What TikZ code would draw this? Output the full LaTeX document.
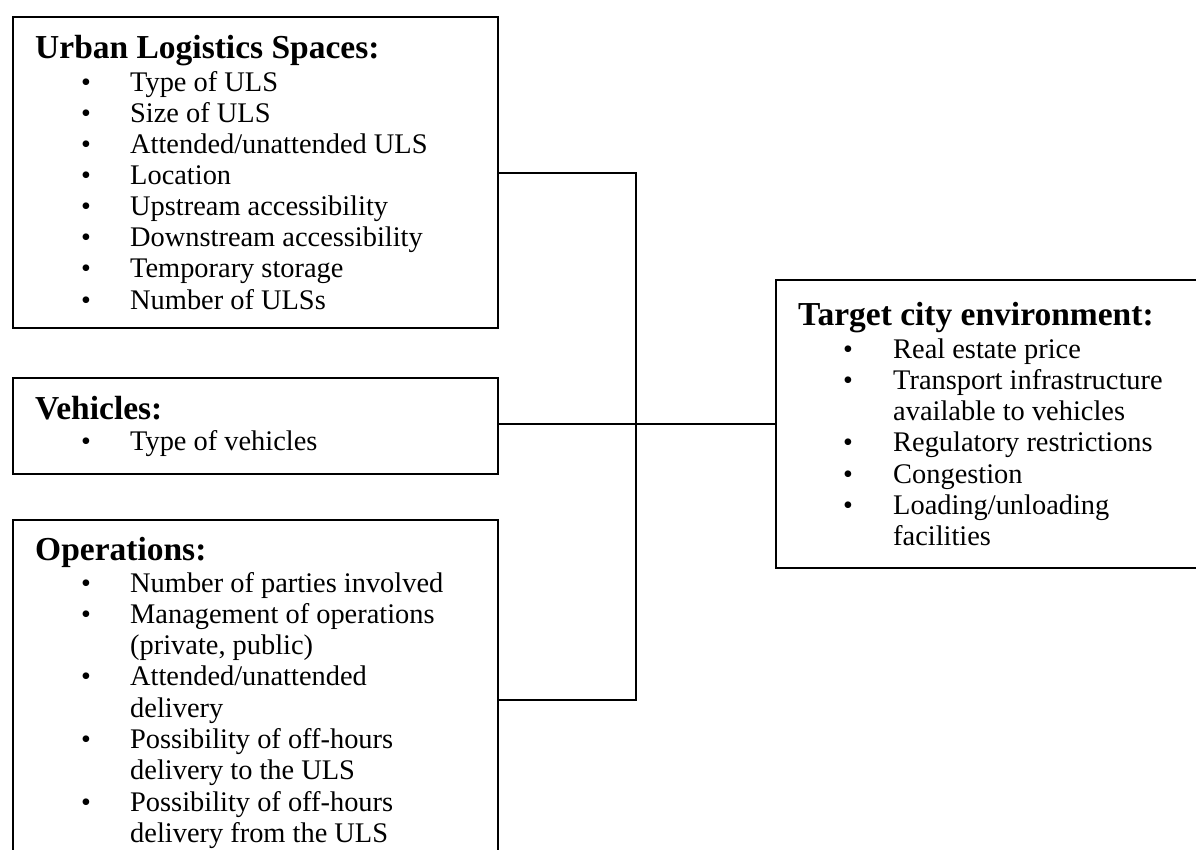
\documentclass[tikz,border=0pt]{standalone}
\usepackage{fontspec}
\setmainfont{Liberation Serif}
\begin{document}
\begin{tikzpicture}[x=1pt,y=-1pt]
\tikzset{
  boxnode/.style={draw, line width=2.4pt, rectangle, inner sep=0pt, anchor=north west},
  ttl/.style={anchor=base west, inner sep=0pt, font=\fontsize{33.5}{36}\selectfont\bfseries},
  itm/.style={anchor=base west, inner sep=0pt, font=\fontsize{28.4}{31}\selectfont},
  bul/.style={anchor=base, inner sep=0pt, font=\fontsize{28}{31}\selectfont},
  conn/.style={line width=2pt},
}
\useasboundingbox (0,0) rectangle (1196,849);
\clip (0,0) rectangle (1196,849);
\fill[white] (0,0) rectangle (1196,849);

% boxes
\node[boxnode, minimum width=485pt, minimum height=311pt] (uls) at (12,16) {};
\node[boxnode, minimum width=485pt, minimum height=96pt] (veh) at (12,377) {};
\node[boxnode, minimum width=485pt, minimum height=360pt] (ops) at (12,519) {};
\node[boxnode, minimum width=460pt, minimum height=288pt] (env) at (775,279) {};

% connectors
\coordinate (jx) at (636,0);
\draw[conn] (uls.east) -- (uls.east -| jx) -- (ops.east -| jx) -- (ops.east);
\draw[conn] (veh.east |- env.west) -- (env.west);

% Urban Logistics Spaces
\node[ttl] (ulsT) at (35,58) {Urban Logistics Spaces:};
\foreach \t [count=\i] in {Type of ULS, Size of ULS, Attended/unattended ULS, Location, Upstream accessibility, Downstream accessibility, Temporary storage, Number of ULSs} {
  \node[bul] (ulsB\i) at (86,{91+31.15*(\i-1)}) {•};
  \node[itm] (ulsI\i) at (130,{91+31.15*(\i-1)}) {\t};
}

% Vehicles
\node[ttl] (vehT) at (35,419) {Vehicles:};
\node[bul] (vehB1) at (86,450) {•};
\node[itm] (vehI1) at (130,450) {Type of vehicles};

% Operations
\node[ttl] (opsT) at (35,560) {Operations:};
\node[bul] (opsB1) at (86,592) {•};
\node[itm] (opsI1) at (130,592) {Number of parties involved};
\node[bul] (opsB2) at (86,623.3) {•};
\node[itm] (opsI2) at (130,623.3) {Management of operations};
\node[itm] (opsI2b) at (130,654.6) {(private, public)};
\node[bul] (opsB3) at (86,685.9) {•};
\node[itm] (opsI3) at (130,685.9) {Attended/unattended};
\node[itm] (opsI3b) at (130,717.2) {delivery};
\node[bul] (opsB4) at (86,748.5) {•};
\node[itm] (opsI4) at (130,748.5) {Possibility of off-hours};
\node[itm] (opsI4b) at (130,779.8) {delivery to the ULS};
\node[bul] (opsB5) at (86,811.1) {•};
\node[itm] (opsI5) at (130,811.1) {Possibility of off-hours};
\node[itm] (opsI5b) at (130,842.4) {delivery from the ULS};

% Target city environment
\node[ttl] (envT) at (798,325) {Target city environment:};
\node[bul] (envB1) at (848,358) {•};
\node[itm] (envI1) at (893,358) {Real estate price};
\node[bul] (envB2) at (848,389.3) {•};
\node[itm] (envI2) at (893,389.3) {Transport infrastructure};
\node[itm] (envI2b) at (893,420.6) {available to vehicles};
\node[bul] (envB3) at (848,451.9) {•};
\node[itm] (envI3) at (893,451.9) {Regulatory restrictions};
\node[bul] (envB4) at (848,483.2) {•};
\node[itm] (envI4) at (893,483.2) {Congestion};
\node[bul] (envB5) at (848,514.5) {•};
\node[itm] (envI5) at (893,514.5) {Loading/unloading};
\node[itm] (envI5b) at (893,545.8) {facilities};
\end{tikzpicture}
\end{document}
